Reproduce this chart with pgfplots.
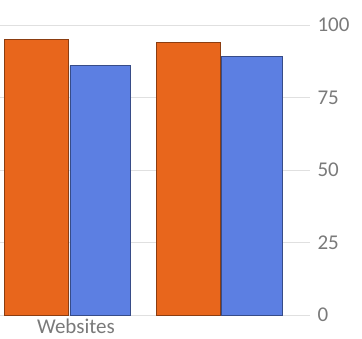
\documentclass[border=0pt]{standalone}
\usepackage{pgfplots}
\pgfplotsset{compat=1.18}
\usepackage{fontspec}
\setmainfont{Carlito}
\definecolor{barorange}{HTML}{E8661C}
\definecolor{barblue}{HTML}{5C7FE2}
\definecolor{ticktext}{HTML}{7A7A7A}
\begin{document}
\begin{tikzpicture}
\path[use as bounding box] (0,0) rectangle (362pt,338pt);
\begin{axis}[
  at={(0pt,23pt)}, anchor=south west,
  scale only axis, width=310pt, height=290pt,
  ybar, bar width=0.42,
  xmin=-0.46, xmax=1.58, ymin=0, ymax=100,
  xtick={0,1}, xticklabels={Websites,},
  ytick={0,25,50,75,100},
  axis y line*=right, axis x line=none,
  axis line style={draw=none},
  major tick length=0pt,
  ymajorgrids, grid style={draw=black!12, line width=0.8pt},
  tick label style={font=\fontsize{21}{24}\selectfont, text=ticktext},
  yticklabel style={anchor=west, xshift=4pt},
  /pgf/number format/assume math mode=true,
  clip=false,
]
\addplot[ybar, bar shift=-0.22, fill=barorange, draw=barorange!60!black, line width=0.8pt] coordinates {(0,95) (1,94)};
\addplot[ybar, bar shift=0.20, bar width=0.40, fill=barblue, draw=barblue!60!black, line width=0.8pt] coordinates {(0,86) (1,89)};
\end{axis}
\node[font=\fontsize{21}{24}\selectfont, text=ticktext] at (76pt,12pt) {Websites};
\end{tikzpicture}
\end{document}
